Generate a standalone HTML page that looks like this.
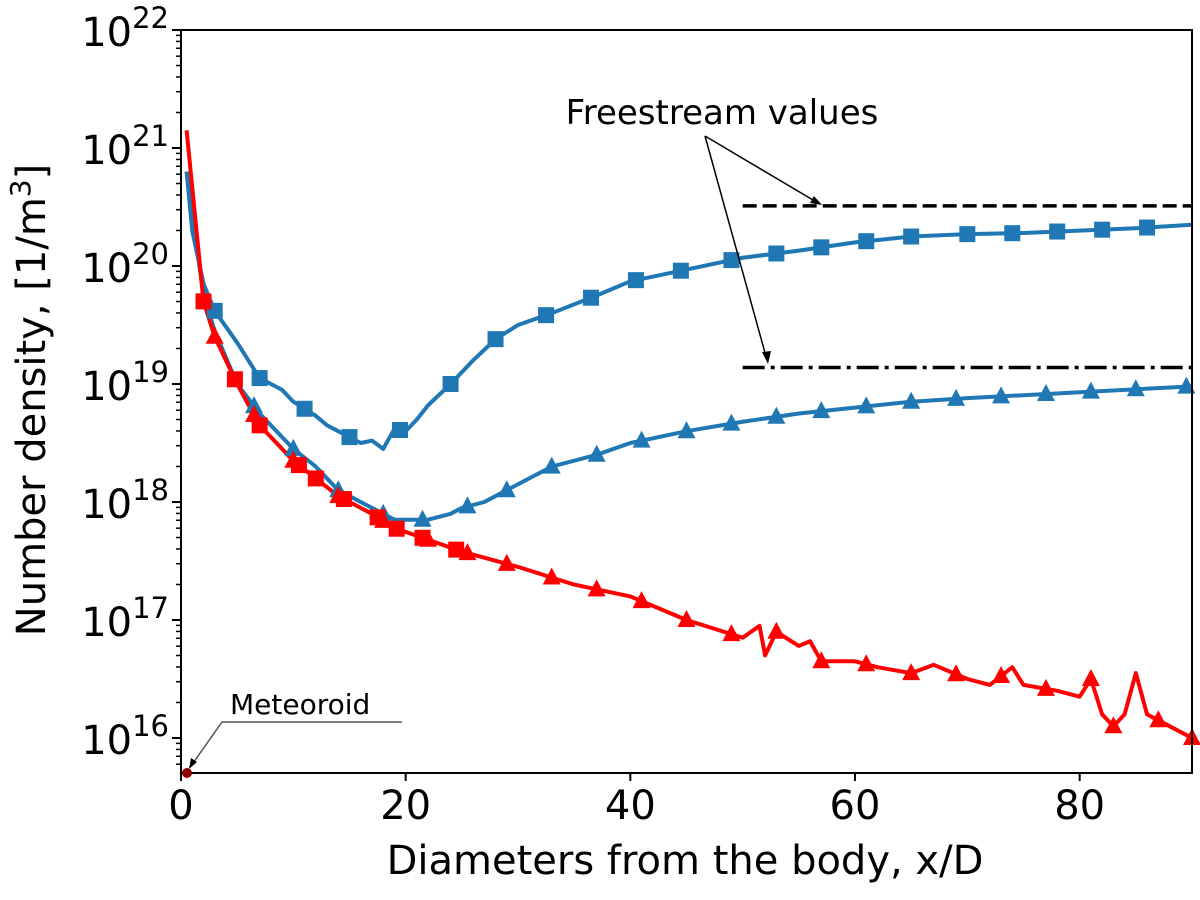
<!DOCTYPE html>
<html><head><meta charset="utf-8"><style>
html,body{margin:0;padding:0;background:#fff;}
svg{display:block;font-family:"DejaVu Sans","Liberation Sans",sans-serif;}
</style></head><body>
<svg id="chart" width="1200" height="900" viewBox="0 0 1200 900">
<g id="series"></g>
<g id="axes"></g>
<g id="annot"></g>
</svg>
<script>
const xTicks=[0,20,40,60,80];
const yDecades=[16,17,18,19,20,21,22];
const blueSqX=[0.5,1,2,3,5,7,9,10,12,13,15,16,17,18,19,20,21,22,24,26,28,30,33,37,40,45,50,55,60,65,70,75,80,85,90];
const blueSqY=[20.8,20.3,19.85,19.62,19.35,19.05,18.95,18.85,18.73,18.65,18.55,18.5,18.52,18.45,18.62,18.6,18.7,18.82,19.0,19.2,19.38,19.5,19.6,19.75,19.87,19.97,20.07,20.13,20.2,20.25,20.27,20.28,20.3,20.32,20.35];
const blueTrX=[0.5,2,3,5,7,10,12,14,17,19,21,22,24,25,27,29,31,33,37,40,45,50,55,60,65,70,80,90];
const blueTrY=[20.8,19.75,19.45,19.0,18.75,18.45,18.3,18.1,17.95,17.85,17.85,17.85,17.9,17.95,18.0,18.1,18.2,18.3,18.4,18.5,18.6,18.68,18.75,18.8,18.85,18.88,18.93,18.98];
const redX=[0.5,2,3,5,7,10,12,14,17,19,22,25,30,35,40,45,50,51.5,52,53,55,56,57,60,62,65,67,70,72,74,75,78,80,81,82,83,84,85,86,88,90];
const redY=[21.15,19.7,19.4,19.0,18.65,18.35,18.2,18.05,17.9,17.78,17.68,17.58,17.45,17.3,17.2,17.0,16.85,16.95,16.7,16.9,16.78,16.82,16.65,16.65,16.6,16.55,16.62,16.5,16.45,16.6,16.45,16.4,16.35,16.5,16.2,16.1,16.2,16.55,16.2,16.1,16.0];
const redSqMarks=[2,4.8,7,10.5,12,14.5,17.5,19.2,21.5,24.5];
const redTrMarks=[3,6.5,10,14,18,22,25.5,29,33,37,41,45,49,53,57,61,65,69,73,77,81,83,87,90];
const blueSqMarks=[3,7,11,15,19.5,24,28,32.5,36.5,40.5,44.5,49,53,57,61,65,70,74,78,82,86];
const blueTrMarks=[6.5,10,14,18,21.5,25.5,29,33,37,41,45,49,53,57,61,65,69,73,77,81,85,89.5];
const freeUpper=20.51, freeLower=19.14;

const L=181,R=1192,T=30,B=773;
const X=v=>L+(v-0)*(R-L)/90;
const Y=lg=>T+(22-lg)*118;
const NS='http://www.w3.org/2000/svg';
function mk(tag,attrs,parent){const e=document.createElementNS(NS,tag);for(const k in attrs)e.setAttribute(k,attrs[k]);parent.appendChild(e);return e;}
function interp(xs,ys,x){for(let i=0;i<xs.length-1;i++){if(x>=xs[i]&&x<=xs[i+1]){const t=(x-xs[i])/(xs[i+1]-xs[i]);return ys[i]+t*(ys[i+1]-ys[i]);}}return ys[ys.length-1];}
const ser=document.getElementById('series');
function line(xs,ys,color,name){const p=mk('polyline',{points:xs.map((x,i)=>X(x)+','+Y(ys[i])).join(' '),fill:'none',stroke:color,'stroke-width':4,'stroke-linejoin':'round'},ser);

}
function squares(marks,xs,ys,color,name){marks.forEach(m=>{const cx=X(m),cy=Y(interp(xs,ys,m));const r=mk('rect',{x:cx-8,y:cy-8,width:16,height:16,fill:color},ser);

});}
function tris(marks,xs,ys,color,name){marks.forEach(m=>{const cx=X(m),cy=Y(interp(xs,ys,m));const p=mk('polygon',{points:`${cx},${cy-10} ${cx-9},${cy+7} ${cx+9},${cy+7}`,fill:color},ser);

});}
const BL='#1f77b4',RD='#ff0000';
line(blueSqX,blueSqY,BL,'blue-square-line');
line(blueTrX,blueTrY,BL,'blue-triangle-line');
line(redX,redY,RD,'red-line');
squares(blueSqMarks,blueSqX,blueSqY,BL,'blue-square-marker');
tris(blueTrMarks,blueTrX,blueTrY,BL,'blue-triangle-marker');
squares(redSqMarks,redX,redY,RD,'red-square-marker');
tris(redTrMarks,redX,redY,RD,'red-triangle-marker');

const ax=document.getElementById('axes');
const frame=mk('rect',{x:L,y:T,width:R-L,height:B-T,fill:'none',stroke:'#000','stroke-width':2},ax);


xTicks.forEach(t=>{mk('line',{x1:X(t),y1:B,x2:X(t),y2:B+8,stroke:'#000','stroke-width':2},ax);
const tx=mk('text',{x:X(t),y:B+46,'font-size':40,'text-anchor':'middle'},ax);tx.textContent=t;

});
yDecades.forEach(d=>{mk('line',{x1:L-9,y1:Y(d),x2:L,y2:Y(d),stroke:'#000','stroke-width':2},ax);
const tx=mk('text',{x:L-12,y:Y(d)+16,'font-size':40,'text-anchor':'end'},ax);
tx.innerHTML='10<tspan dy="-18" font-size="29">'+d+'</tspan>';


for(let k=2;k<=9;k++){const lg=d-1+Math.log10(k);const yy=Y(lg);if(yy>=T&&yy<=B)mk('line',{x1:L-5,y1:yy,x2:L,y2:yy,stroke:'#000','stroke-width':1.5},ax);}});
const yl=mk('text',{x:0,y:0,'font-size':40,'text-anchor':'middle',transform:'translate(45,400) rotate(-90)'},ax);
yl.innerHTML='Number density, [1/m<tspan dy="-15" font-size="28">3</tspan><tspan dy="15">]</tspan>';


const xl=mk('text',{x:685,y:874,'font-size':40,'text-anchor':'middle'},ax);xl.textContent='Diameters from the body, x/D';



const an=document.getElementById('annot');
const d1=mk('line',{x1:X(50),y1:Y(freeUpper),x2:X(90),y2:Y(freeUpper),stroke:'#000','stroke-width':3.5,'stroke-dasharray':'14,6'},an);


const d2=mk('line',{x1:X(50),y1:Y(freeLower),x2:X(90),y2:Y(freeLower),stroke:'#000','stroke-width':3.5,'stroke-dasharray':'22,6,4,6'},an);


const ft=mk('text',{x:722,y:124,'font-size':34,'text-anchor':'middle'},an);ft.textContent='Freestream values';


mk('line',{x1:705,y1:136,x2:818,y2:203,stroke:'#000','stroke-width':1.5},an);
mk('polygon',{points:'822,205 810,203 814,196',fill:'#000'},an);
mk('line',{x1:705,y1:136,x2:767,y2:360,stroke:'#000','stroke-width':1.5},an);
mk('polygon',{points:'768,364 762,352 771,351',fill:'#000'},an);
const mt=mk('text',{x:230,y:714,'font-size':28},an);mt.textContent='Meteoroid';


mk('polyline',{points:'402,722 222,722 191,766',fill:'none',stroke:'#555','stroke-width':1.5},an);
mk('polygon',{points:'189,769 191,758 197,762',fill:'#000'},an);
const dot=mk('circle',{cx:187,cy:773,r:5,fill:'#8b0000'},an);


</script>
</body></html>
